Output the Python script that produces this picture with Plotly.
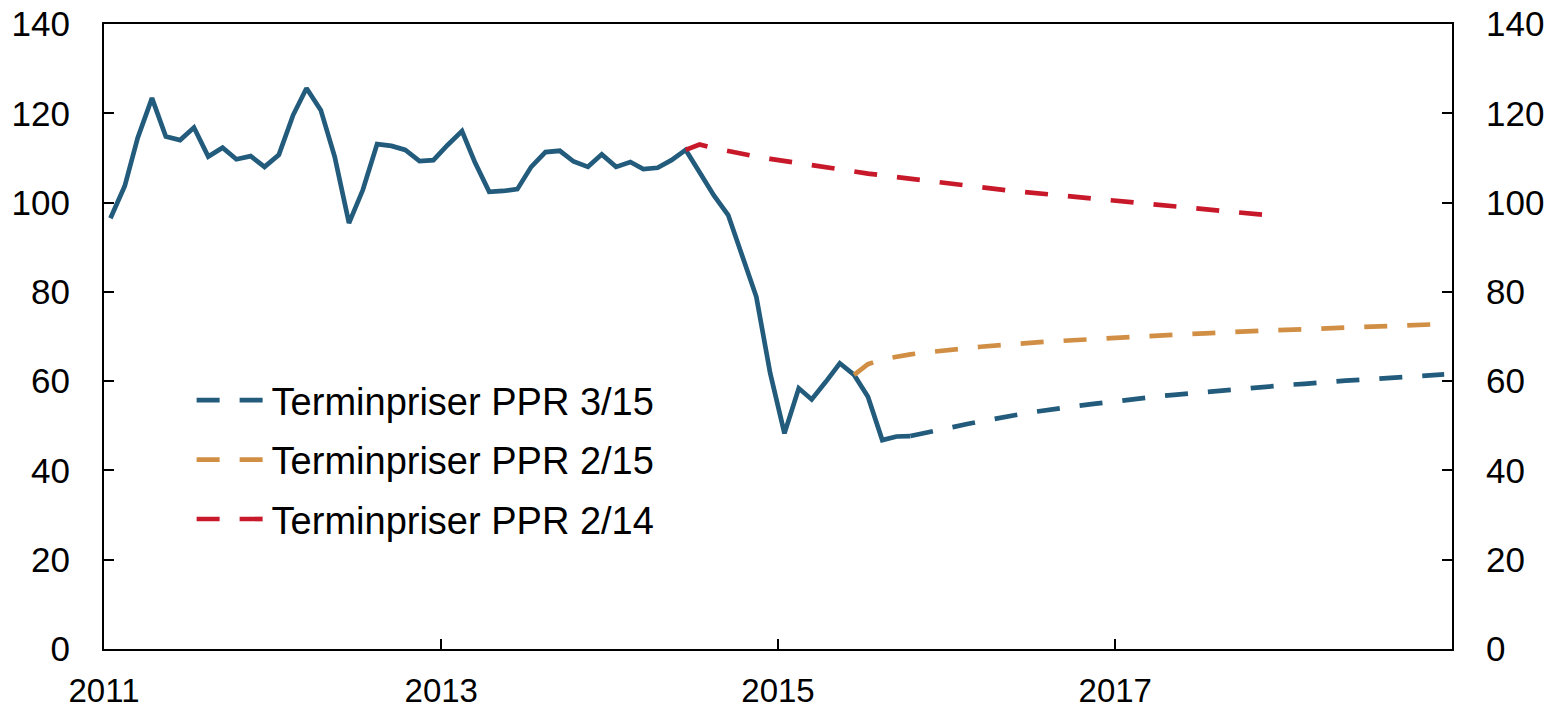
import plotly.graph_objects as go

# ---------------- data ----------------
# Historical oil price (monthly), Jan 2011 - Oct 2015
hist_start = (2011, 1)
hist_values = [
    96.5, 103.7, 114.5, 123.4, 114.8, 114.0, 116.8, 110.3, 112.3, 109.7, 110.4, 108.0,   # 2011
    110.7, 119.6, 125.6, 120.7, 110.3, 95.4, 102.8, 113.1, 112.7, 111.8, 109.3, 109.5,  # 2012
    112.9, 116.0, 109.0, 102.4, 102.6, 103.0, 108.0, 111.3, 111.6, 109.2, 108.0, 110.8,  # 2013
    108.0, 109.1, 107.5, 107.8, 109.5, 111.8, 106.8, 101.6, 97.2, 87.9, 78.9, 61.8,     # 2014
    48.3, 58.4, 55.9, 59.9, 64.0, 61.4, 56.5, 46.8, 47.6, 47.7,                       # 2015
]

# Futures PPR 3/15, Oct 2015 - Dec 2018
ppr315_start = (2015, 10)
ppr315_values = [
    47.7, 48.3, 49.0,
    49.7, 50.4, 51.0, 51.6, 52.2, 52.7, 53.2, 53.7, 54.1, 54.5, 54.9, 55.3,
    55.7, 56.0, 56.4, 56.7, 57.0, 57.3, 57.6, 57.9, 58.2, 58.5, 58.7, 59.0,
    59.2, 59.4, 59.7, 59.9, 60.1, 60.3, 60.5, 60.7, 60.9, 61.1, 61.3, 61.5,
]

# Futures PPR 2/15, Jun 2015 - Dec 2018
ppr215_start = (2015, 6)
ppr215_values = [
    61.4, 63.8, 64.9, 65.5, 66.0, 66.4, 66.8,
    67.1, 67.4, 67.7, 68.0, 68.2, 68.4, 68.7, 68.9, 69.1, 69.3, 69.5, 69.6,
    69.8, 70.0, 70.1, 70.3, 70.4, 70.6, 70.7, 70.9, 71.0, 71.1, 71.3, 71.4,
    71.5, 71.6, 71.8, 71.9, 72.0, 72.1, 72.2, 72.3, 72.5, 72.6, 72.7, 72.8,
]

# Futures PPR 2/14, Jun 2014 - Dec 2017
ppr214_start = (2014, 6)
ppr214_values = [
    111.8, 113.0, 112.2, 111.5, 110.8, 110.3, 109.8,
    109.3, 108.8, 108.3, 107.8, 107.3, 106.9, 106.5, 106.1, 105.7, 105.3, 104.9, 104.5,
    104.1, 103.7, 103.4, 103.0, 102.7, 102.4, 102.1, 101.8, 101.5, 101.2, 100.9, 100.6,
    100.3, 100.0, 99.7, 99.4, 99.1, 98.8, 98.5, 98.2, 97.9, 97.6, 97.3, 97.0,
]

series_names = ["Terminpriser PPR 3/15", "Terminpriser PPR 2/15", "Terminpriser PPR 2/14"]
x_tick_labels = ["2011", "2013", "2015", "2017"]
y_ticks = [0, 20, 40, 60, 80, 100, 120, 140]

BLUE = "#225B7B"
ORANGE = "#D18F45"
RED = "#C8192B"
FONT = "Liberation Sans, Arial, sans-serif"


def months(start, n):
    y, m = start
    out = []
    for _ in range(n):
        out.append(f"{y}-{m:02d}-15")
        m += 1
        if m > 12:
            m = 1
            y += 1
    return out


fig = go.Figure()

fig.add_trace(go.Scatter(
    x=months(hist_start, len(hist_values)), y=hist_values,
    mode="lines", line=dict(color=BLUE, width=4.7),
    showlegend=False, hoverinfo="skip"))

for name, start, vals, col in [
    (series_names[0], ppr315_start, ppr315_values, BLUE),
    (series_names[1], ppr215_start, ppr215_values, ORANGE),
    (series_names[2], ppr214_start, ppr214_values, RED),
]:
    fig.add_trace(go.Scatter(
        x=months(start, len(vals)), y=vals, name=name, legendgroup=name,
        mode="lines", line=dict(color=col, width=4.7, dash="23px,20px")))

# invisible trace carrying the right-hand axis
fig.add_trace(go.Scatter(x=[None], y=[None], yaxis="y2", showlegend=False,
                         hoverinfo="skip"))

tick_font = dict(family=FONT, size=35, color="black")
common_y = dict(
    range=[0, 140], tickvals=y_ticks,
    ticks="inside", ticklen=10, tickwidth=1.5, tickcolor="black",
    showline=True, linecolor="black", linewidth=2,
    showgrid=False, zeroline=False, tickfont=tick_font,
    ticklabelstandoff=25, automargin=False,
)

fig.update_layout(
    template="none",
    width=1549, height=710,
    margin=dict(l=104, r=97, t=24, b=61, autoexpand=False),
    paper_bgcolor="white", plot_bgcolor="white",
    showlegend=True,
    legend=dict(
        x=0.065, y=0.448, xanchor="left", yanchor="top",
        font=dict(family=FONT, size=38, color="black"),
        bgcolor="rgba(0,0,0,0)", borderwidth=0,
        tracegroupgap=7, itemwidth=70,
    ),
    xaxis=dict(
        type="date", range=["2011-01-01", "2019-01-01"],
        tickvals=[f"{t}-01-01" for t in x_tick_labels], ticktext=x_tick_labels,
        ticks="inside", ticklen=10, tickwidth=1.5, tickcolor="black",
        showline=True, linecolor="black", linewidth=2, mirror=True,
        showgrid=False, zeroline=False,
        tickfont=dict(family=FONT, size=33, color="black"),
        ticklabelstandoff=11, automargin=False,
    ),
    yaxis=dict(**common_y),
    yaxis2=dict(**common_y, overlaying="y", side="right"),
)

fig.write_html(
    "out.html",
    config={"displayModeBar": False},
    post_script="document.body.style.margin='0';document.body.style.overflow='hidden';",
)
